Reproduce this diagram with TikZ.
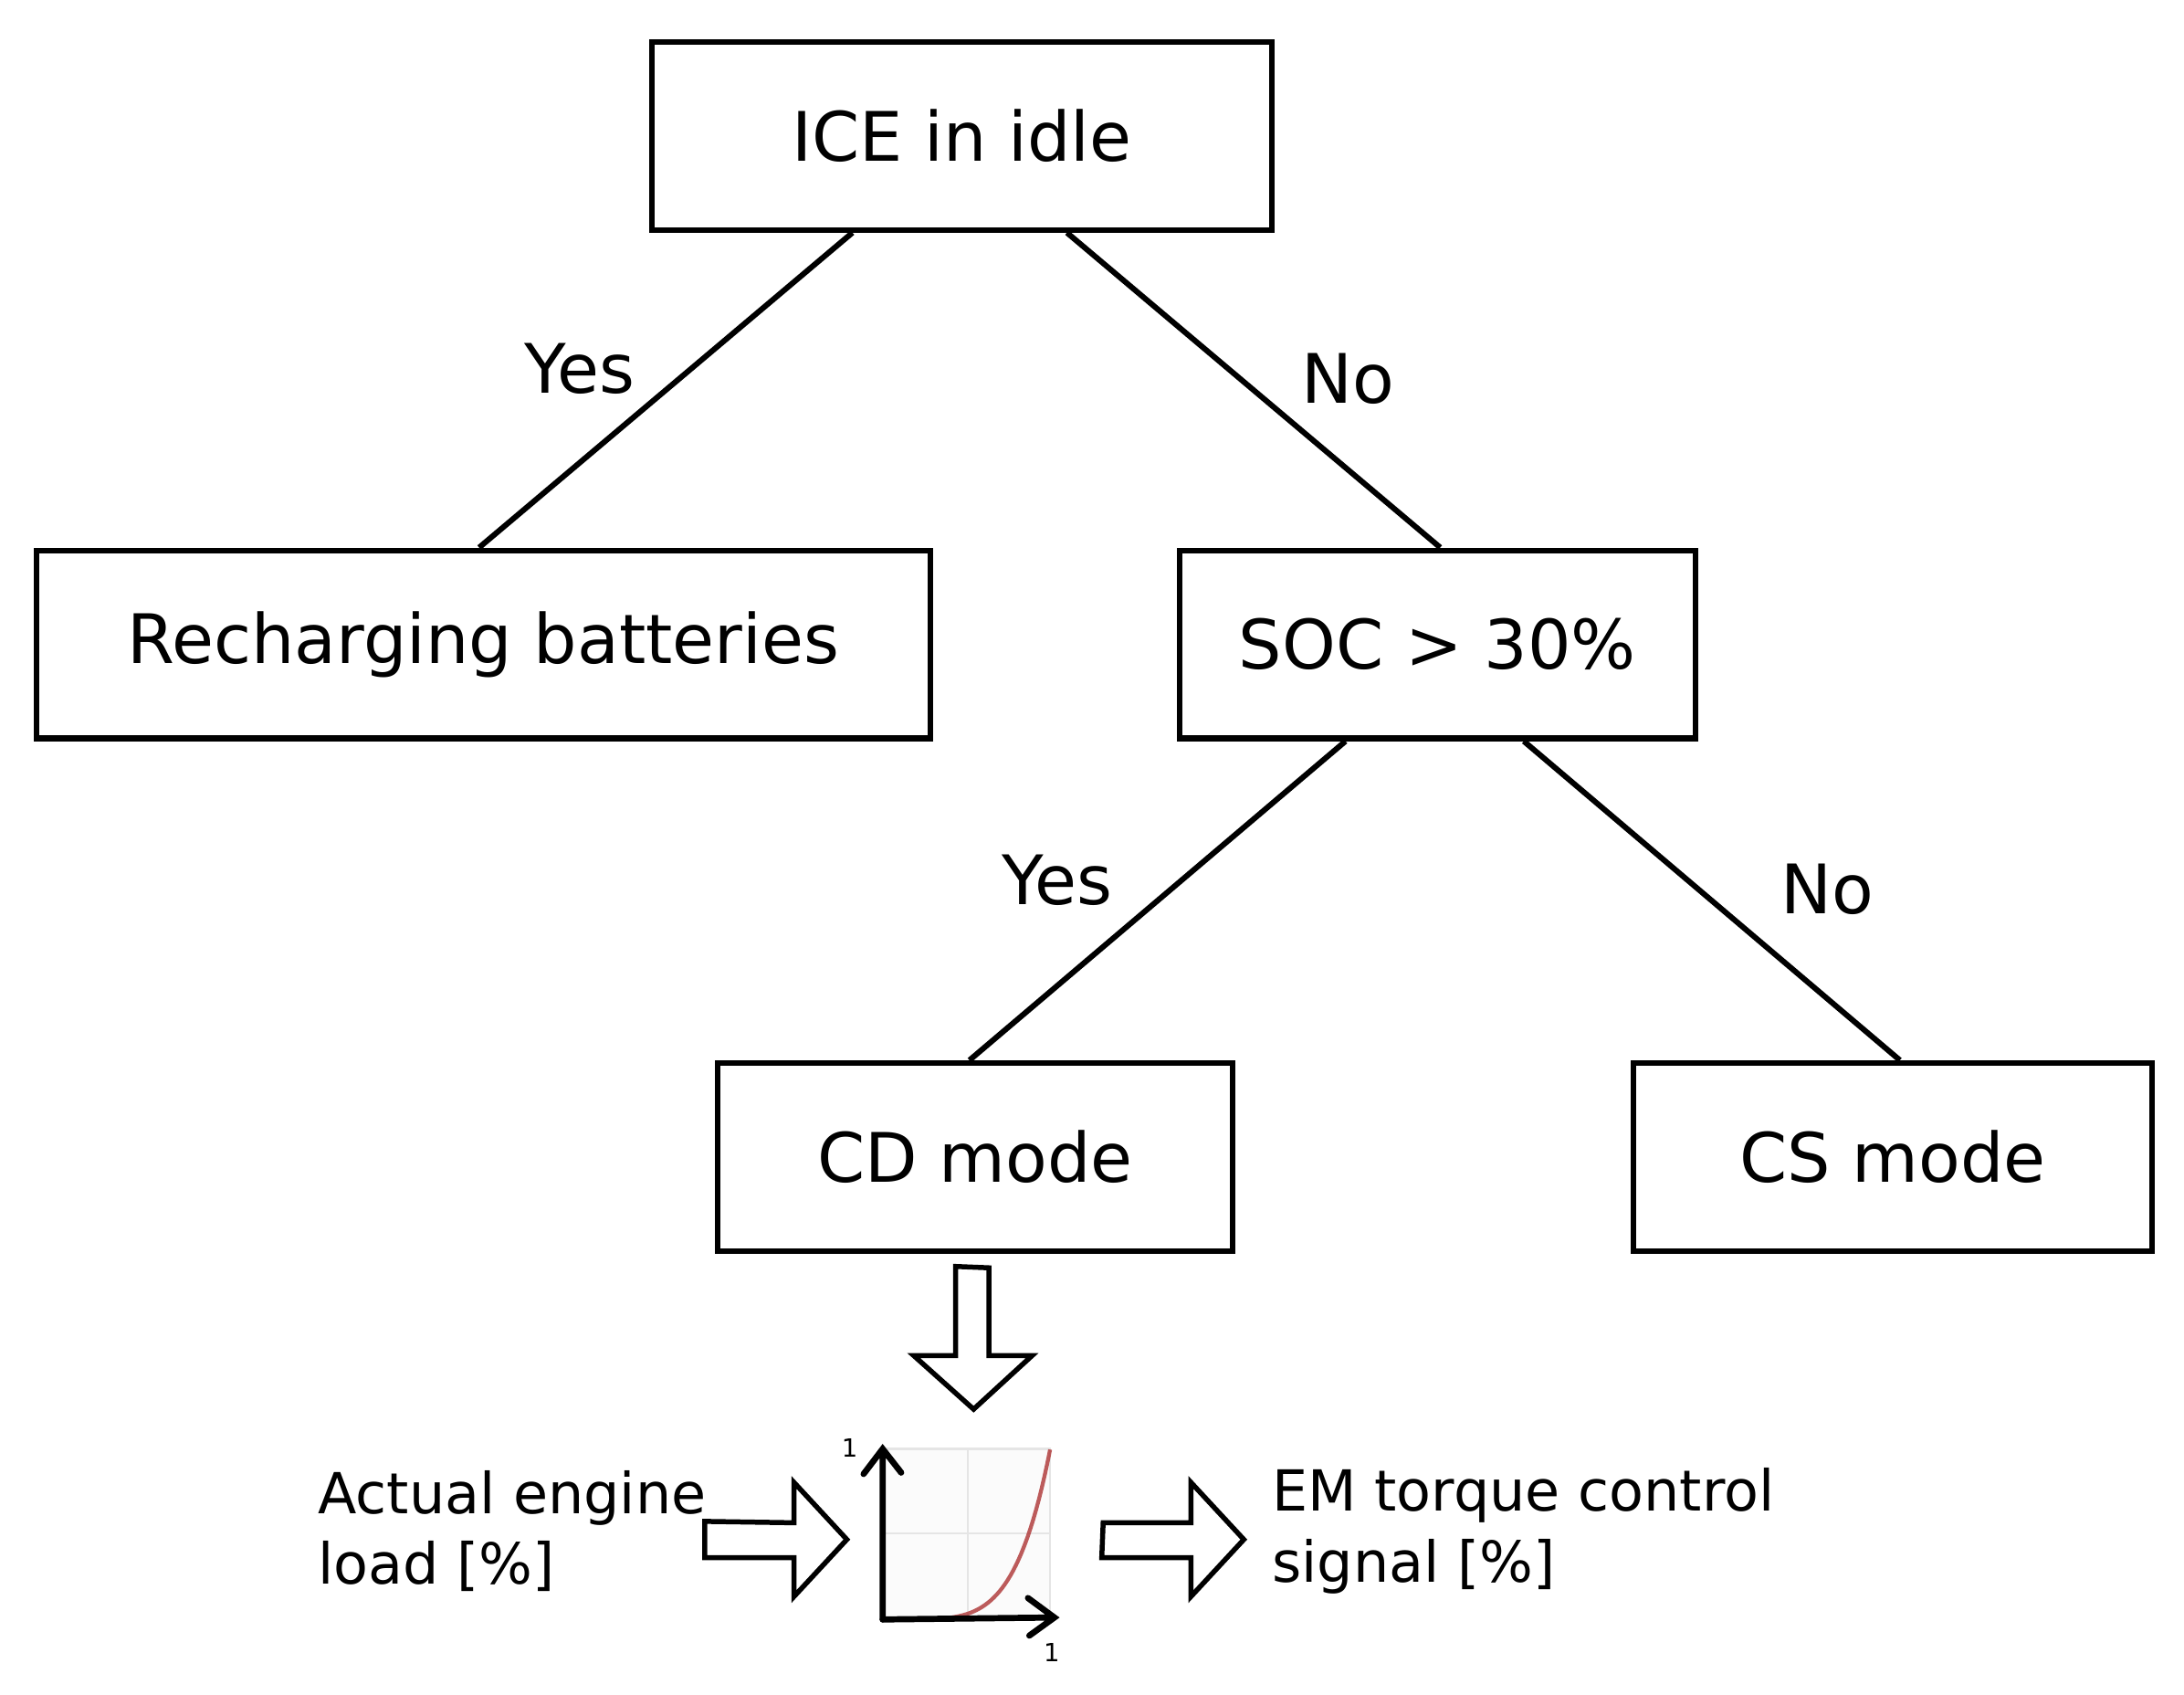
\documentclass[tikz,border=0pt]{standalone}
\usepackage{fontspec}
\setmainfont{DejaVu Sans}
\usetikzlibrary{calc}
\begin{document}
\begin{tikzpicture}[x=0.5pt,y=-0.5pt,
  box/.style={draw,line width=2pt,minimum width=#1*0.5pt,minimum height=67.5pt,inner sep=0pt,font=\fontsize{24.5}{28}\selectfont},
  lab/.style={font=\fontsize{24.5}{28}\selectfont,inner sep=0pt},
  small/.style={font=\fontsize{20.3}{25.5}\selectfont,align=left,inner sep=0pt,anchor=west},
  ln/.style={line width=2pt},
  bigarrow/.style={draw,line width=1.8pt,line join=miter},
  tiny/.style={font=\fontsize{9}{10}\selectfont,inner sep=0pt}]
\useasboundingbox (0,0) rectangle (1568,1216.6);
\node[box=445] (ice) at (690.5,97.5) {ICE in idle};
\node[box=642] (rec) at (347,462.5) {Recharging batteries};
\node[box=370] (soc) at (1032,462.5) {SOC > 30\%};
\node[box=370] (cd) at (700,830.5) {CD mode};
\node[box=372] (cs) at (1359,830.5) {CS mode};
\draw[ln] ($(ice.south west)+(146,0)$) -- ($(rec.north west)+(320,0)$);
\draw[ln] ($(ice.south west)+(300,0)$) -- ($(soc.north west)+(189,0)$);
\draw[ln] ($(soc.south west)+(121,0)$) -- ($(cd.north west)+(183,0)$);
\draw[ln] ($(soc.south west)+(249,0)$) -- ($(cs.north west)+(193,0)$);
\node[lab] (y1) at (416,265) {Yes};
\node[lab] (n1) at (968,272) {No};
\node[lab] (y2) at (759,632) {Yes};
\node[lab] (n2) at (1312,638) {No};
% down arrow
\draw[bigarrow] (686,909) -- (710,910) -- (710,973) -- (741,973) -- (699,1011.5) -- (656,973) -- (686,973) -- cycle;
% chart
\fill[gray!3] (633.7,1040) rectangle (754,1162.4);
\draw[gray!20,line width=0.8pt] (633.7,1040) -- (754,1040) -- (754,1162.4) (695,1040) -- (695,1162.4) (633.7,1100.6) -- (754,1100.6);
\draw[red!60!black!80,opacity=0.8,line width=1.4pt,domain=0:1,samples=60] plot ({633.7+120.3*\x},{1162.4-122.4*\x^5});
\coordinate (o) at (633.7,1162.4);
\coordinate (ytop) at (633.7,1040);
\coordinate (xend) at (757,1161);
\draw[line width=2.2pt,line cap=round] (o) -- (ytop) (620,1058) -- (ytop) -- (647,1057);
\draw[line width=2.2pt,line cap=round] (o) -- (xend) (738,1147) -- (xend) -- (739,1174);
\node[tiny] (one1) at (610,1039) {1};
\node[tiny] (one2) at (755,1186) {1};
% side arrows
\draw[bigarrow] (506,1092) -- (570,1093) -- (570,1064) -- (608,1105) -- (570,1146) -- (570,1118) -- (506,1118) -- cycle;
\draw[bigarrow] (792,1093) -- (855,1093) -- (855,1064) -- (893,1105) -- (855,1146) -- (855,1118) -- (791,1118) -- cycle;
\node[small] (in) at (228,1099) {Actual engine\\load [\%]};
\node[small] (out) at (913,1099) {EM torque control\\signal [\%]};
\end{tikzpicture}
\end{document}
